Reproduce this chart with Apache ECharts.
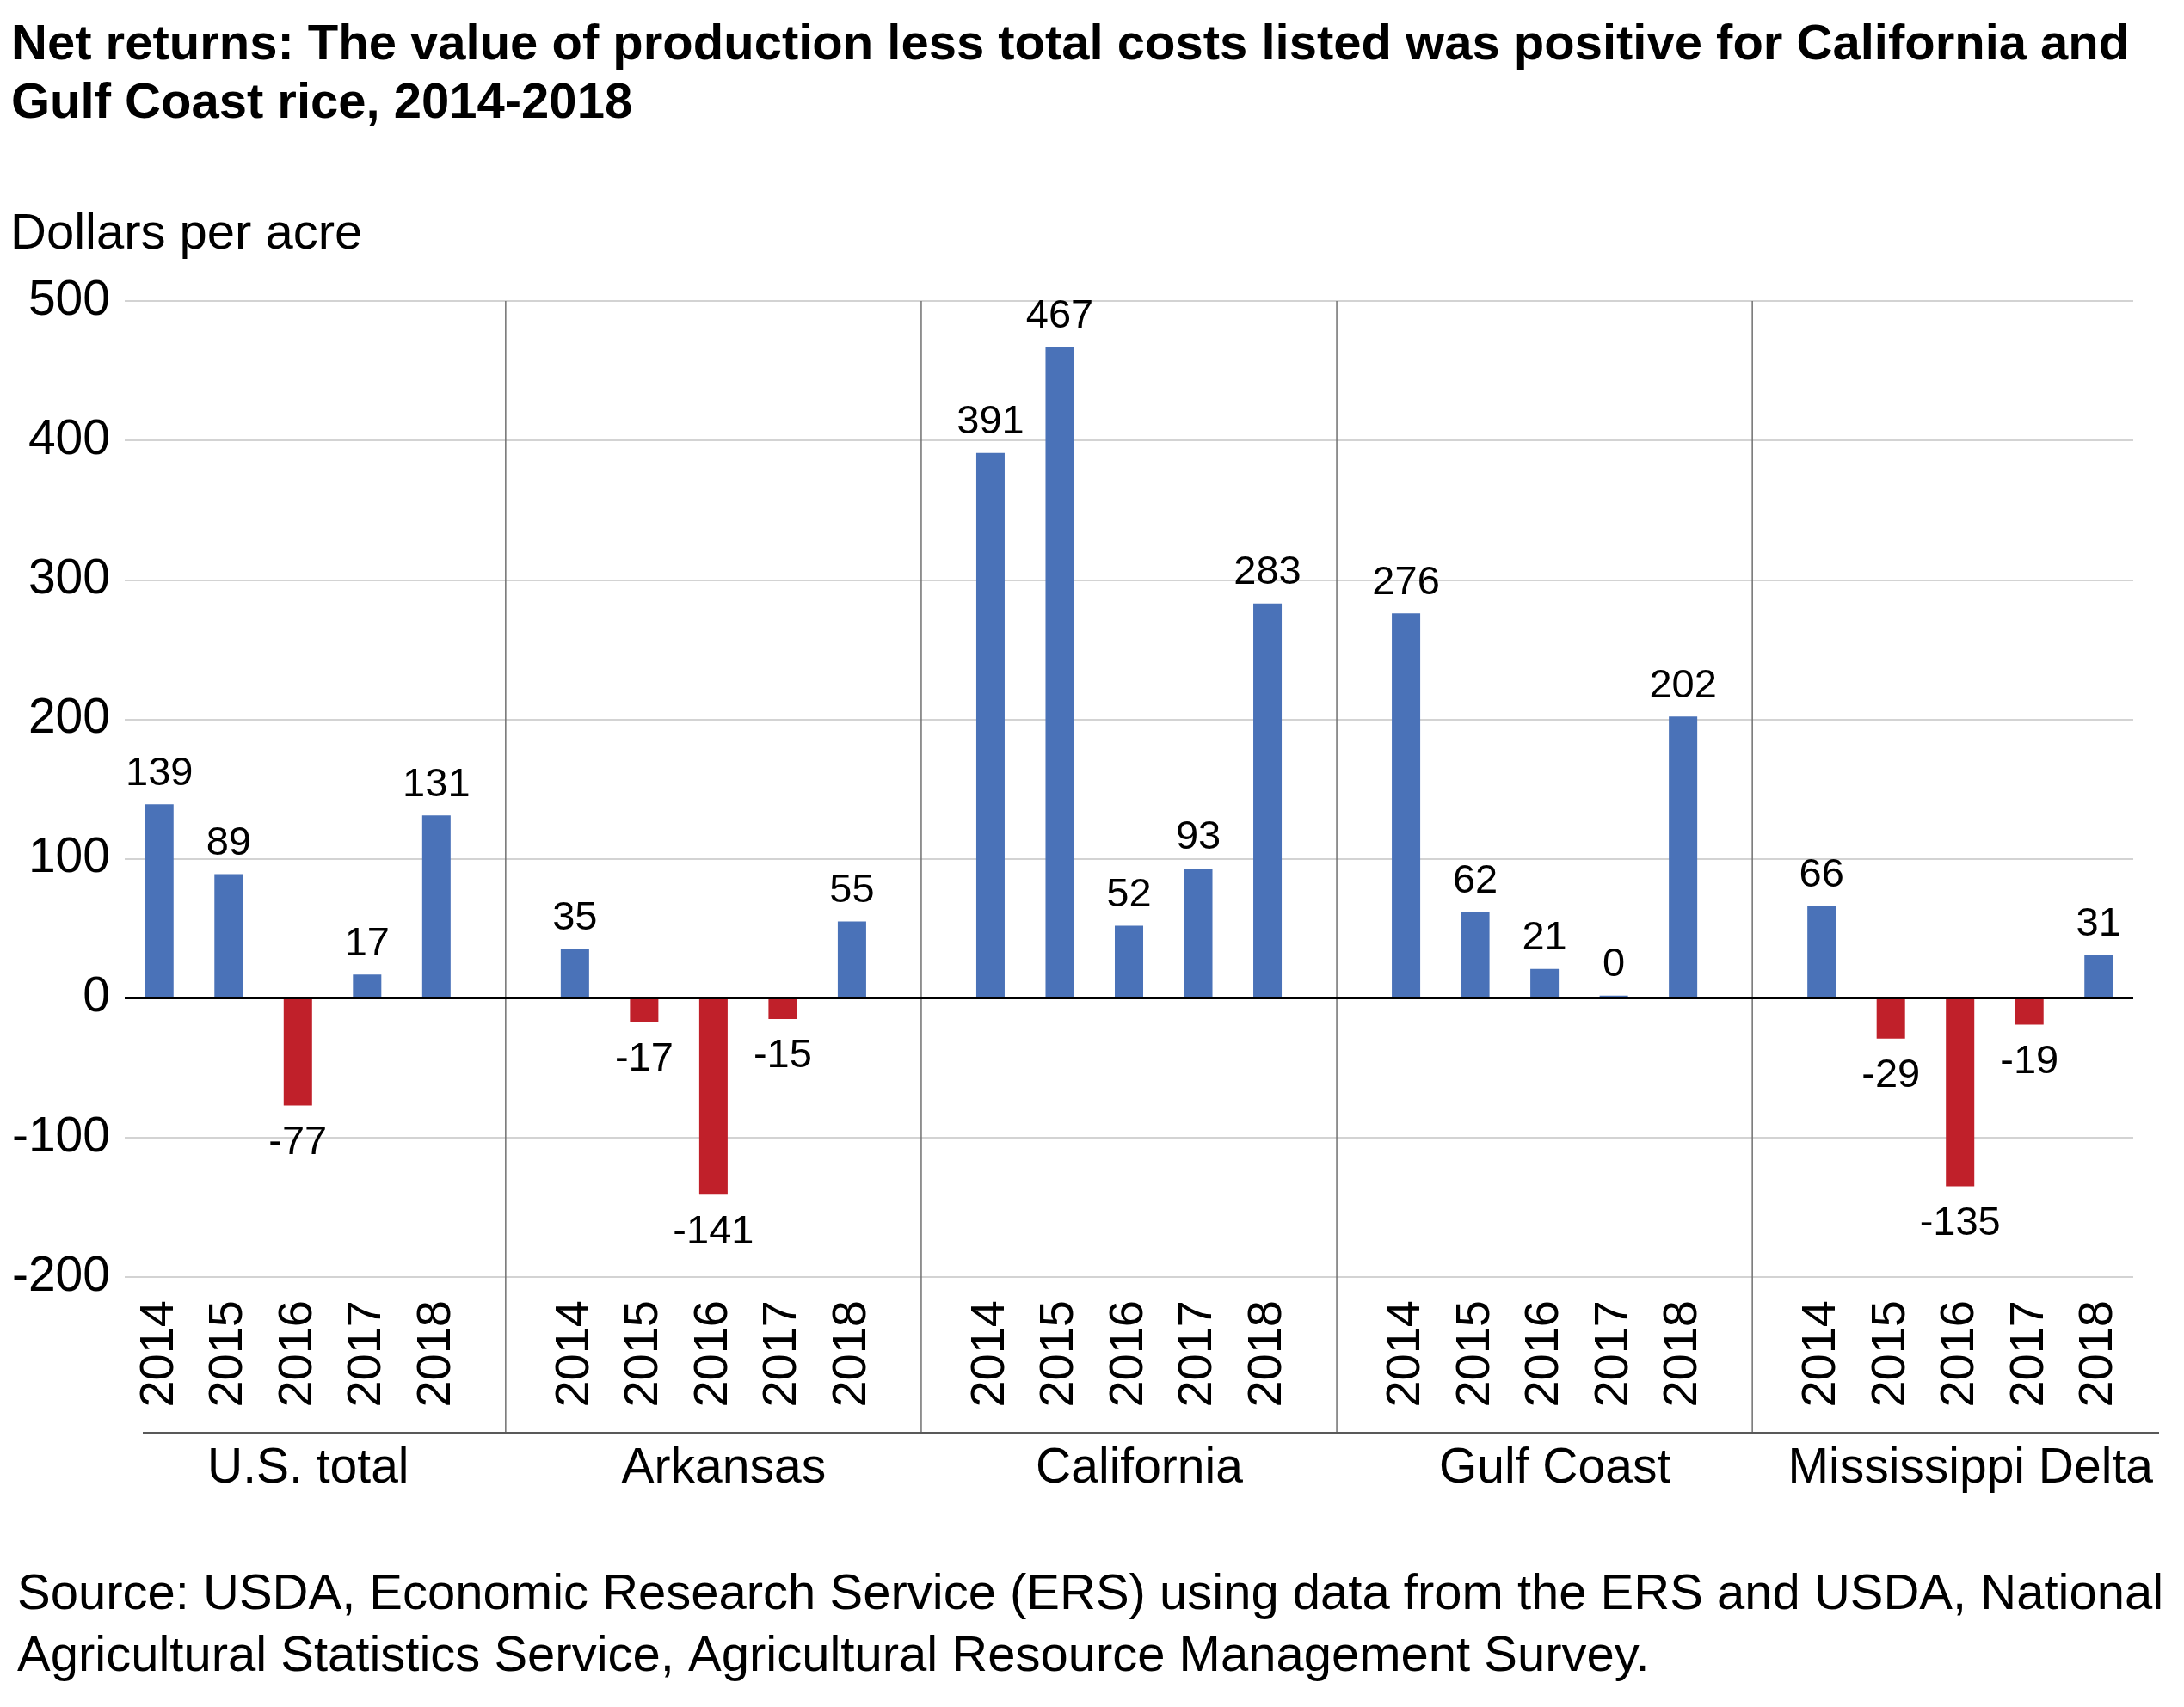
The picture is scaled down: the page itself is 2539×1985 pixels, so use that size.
<!DOCTYPE html>
<html><head><meta charset="utf-8">
<script src="https://cdn.jsdelivr.net/npm/echarts@6/dist/echarts.min.js"></script>
<style>html,body{margin:0;padding:0;background:#fff}#c{width:2539px;height:1985px}</style>
</head><body><div id="c"></div>
<script>
const groups = ['U.S. total', 'Arkansas', 'California', 'Gulf Coast', 'Mississippi Delta'];
const years = ['2014', '2015', '2016', '2017', '2018'];
const usTotal = [139, 89, -77, 17, 131];
const arkansas = [35, -17, -141, -15, 55];
const california = [391, 467, 52, 93, 283];
const gulfCoast = [276, 62, 21, 0, 202];
const mississippiDelta = [66, -29, -135, -19, 31];
const yMin = -200, yMax = 500, yStep = 100;

const FONT = "'Liberation Sans', Arial, Helvetica, sans-serif";
const BLUE = '#4a72b8', RED = '#c0202a';

const groupValues = [usTotal, arkansas, california, gulfCoast, mississippiDelta];
const categories = [];
const values = [];
const gapIdx = [];
groups.forEach((g, gi) => {
  if (gi > 0) { gapIdx.push(categories.length); categories.push('gap' + gi); values.push('-'); }
  years.forEach((y, yi) => { categories.push(g + '|' + y); values.push(groupValues[gi][yi]); });
});

const seriesData = values.map(v => v === '-' ? '-' : {
  value: v,
  itemStyle: { color: v < 0 ? RED : BLUE },
  label: { position: v < 0 ? 'bottom' : 'top', distance: v < 0 ? 20 : 12 }
});

const chart = echarts.init(document.getElementById('c'), null, { renderer: 'canvas' });
const option = {
  animation: false,
  backgroundColor: '#fff',
  textStyle: { fontFamily: FONT, color: '#000' },
  title: [
    { text: 'Net returns: The value of production less total costs listed was positive for California and\nGulf Coast rice, 2014-2018',
      left: 13, top: 19, padding: 0,
      textStyle: { fontFamily: FONT, fontSize: 58, fontWeight: 'bold', lineHeight: 68, color: '#000' } },
    { text: 'Dollars per acre', left: 12, top: 244, padding: 0,
      textStyle: { fontFamily: FONT, fontSize: 58, fontWeight: 'normal', lineHeight: 58, color: '#000' } },
    { text: 'Source: USDA, Economic Research Service (ERS) using data from the ERS and USDA, National\nAgricultural Statistics Service, Agricultural Resource Management Survey.',
      left: 20, top: 1819, padding: 0,
      textStyle: { fontFamily: FONT, fontSize: 58, fontWeight: 'normal', lineHeight: 72, color: '#000' } }
  ],
  grid: { left: 145, right: 59, top: 350, bottom: 500, containLabel: false },
  xAxis: [
    { type: 'category', data: categories, boundaryGap: true,
      axisLine: { show: false, onZero: false }, axisTick: { show: false },
      axisLabel: { interval: 0, rotate: 90, margin: 27, fontSize: 56, color: '#000', fontFamily: FONT,
        formatter: v => v.indexOf('|') >= 0 ? v.split('|')[1] : '' } },
    { type: 'category', data: categories, boundaryGap: true, position: 'bottom', offset: 180,
      axisLine: { show: false, onZero: false }, axisTick: { show: false },
      axisLabel: { interval: 0, margin: 15, fontSize: 57, color: '#000', fontFamily: FONT,
        padding: [0, 0, 0, 24],
        formatter: v => { const p = v.split('|'); return (p.length === 2 && p[1] === years[2]) ? p[0] : ''; } } }
  ],
  yAxis: {
    type: 'value', min: yMin, max: yMax, interval: yStep,
    axisLine: { show: false }, axisTick: { show: false },
    axisLabel: { fontSize: 57, color: '#000', margin: 17, fontFamily: FONT },
    splitLine: { lineStyle: { color: '#c4c4c4', width: 1.5 } }
  },
  series: [{
    type: 'bar', data: seriesData, barCategoryGap: '59%', barMinHeight: 3,
    label: { show: true, fontSize: 47, color: '#000', fontFamily: FONT },
    markLine: { silent: true, symbol: 'none', label: { show: false },
      lineStyle: { color: '#000', width: 3, type: 'solid' }, data: [{ yAxis: 0 }] },
    z: 3
  }]
};
chart.setOption(option);

const yTop = chart.convertToPixel({ yAxisIndex: 0 }, yMax);
const bottomY = 1666;
const graphics = gapIdx.map(i => ({
  type: 'line', silent: true, z: 1,
  shape: { x1: chart.convertToPixel({ xAxisIndex: 0 }, categories[i]), y1: yTop,
           x2: chart.convertToPixel({ xAxisIndex: 0 }, categories[i]), y2: bottomY },
  style: { stroke: '#707070', lineWidth: 1.5 }
}));
graphics.push({ type: 'line', silent: true, z: 1,
  shape: { x1: 166, y1: bottomY, x2: 2510, y2: bottomY },
  style: { stroke: '#595959', lineWidth: 2 } });
chart.setOption({ graphic: graphics });
</script>
</body></html>
